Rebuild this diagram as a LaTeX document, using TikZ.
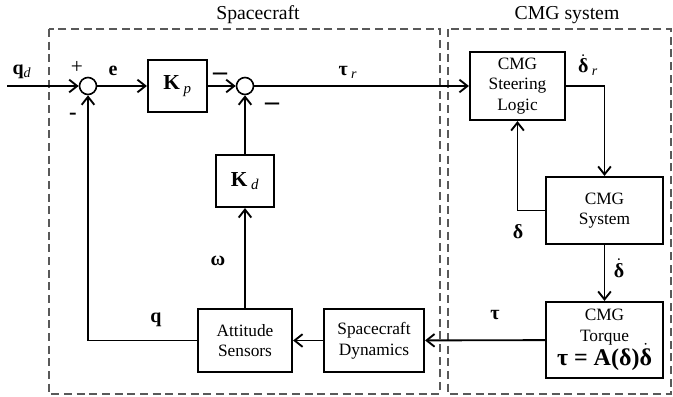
\documentclass[tikz,border=0pt]{standalone}
\usepackage{amsmath}
\usepackage{fontspec}
\setmainfont{Liberation Serif}
\usetikzlibrary{arrows.meta}
\newcommand\bdot[1]{\ensuremath{\dot{\text{\bfseries #1}}}}
\begin{document}
\begin{tikzpicture}[x=0.75pt,y=-0.75pt,
  blk/.style={draw,line width=1.6pt,align=center,inner sep=0pt,font=\fontsize{13}{15.5}\selectfont},
  sumc/.style={draw,circle,line width=1.2pt,minimum size=12.75pt,inner sep=0pt},
  sig/.style={line width=1.4pt,-{Straight Barb[length=6pt,width=9.5pt,line width=1.4pt]}},
  grp/.style={draw=black!65,line width=1.3pt,dash pattern=on 6pt off 3.5pt},
  hdr/.style={font=\fontsize{14.8}{16}\selectfont},
  lab/.style={font=\fontsize{15}{17}\selectfont\bfseries,inner sep=0pt},
  dsh/.style={font=\fontsize{21}{21}\selectfont\bfseries,inner sep=0pt}]
\useasboundingbox (0,0) rectangle (673,396);
% groups
\draw[grp] (49,29) rectangle (440,394);
\draw[grp] (448,29) rectangle (671,394);
\node[hdr] (hsc) at (258,15) {Spacecraft};
\node[hdr] (hcmg) at (567,15) {CMG system};
% nodes
\coordinate (in) at (7,86);
\node[sumc] (s1) at (88,86) {};
\node[blk,minimum width=44.25pt,minimum height=39pt,font=\fontsize{16}{18}\selectfont] (kp) at (177.5,86) {\textbf{K}\,\textsubscript{\itshape p}};
\node[sumc] (s2) at (245,86) {};
\node[blk,minimum width=71.25pt,minimum height=51pt] (steer) at (517.5,86) {CMG\\Steering\\Logic};
\node[blk,minimum width=87.75pt,minimum height=50.25pt] (sys) at (604.5,210.5) {CMG\\System};
\node[blk,minimum width=87.75pt,minimum height=57pt] (torq) at (604.5,340) {CMG\\Torque\\[-2pt]{\fontsize{18}{18}\selectfont\bfseries τ = A(δ)\bdot{δ}}};
\node[blk,minimum width=75pt,minimum height=47.25pt] (scd) at (374,340.5) {Spacecraft\\Dynamics};
\node[blk,minimum width=70.5pt,minimum height=47.25pt] (att) at (245,340.5) {Attitude\\Sensors};
\node[blk,minimum width=43.5pt,minimum height=39pt,font=\fontsize{16}{18}\selectfont] (kd) at (245,181) {\textbf{K}\,\textsubscript{\itshape d}};
% connectors
\draw[sig] (in) -- (s1);
\draw[sig] (s1) -- (kp);
\draw[sig] (kp) -- (s2);
\draw[sig] (s2) -- (steer);
\draw[sig] (steer.east) -| (sys.north);
\draw[sig] (sys.west) -| (steer.south);
\draw[sig] (sys) -- (torq);
\draw[sig] (torq) -- (scd);
\draw[sig] (scd) -- (att);
\draw[sig] (att.west) -| (s1.south);
\draw[sig] (att) -- (kd);
\draw[sig] (kd) -- (s2);
% labels
\node[lab] (lqd) at (22,72) {q\textsubscript{\normalfont\itshape d}};
\node[font=\fontsize{16}{16}\selectfont,inner sep=0pt] (lplus) at (77,67) {+};
\node[font=\fontsize{17}{17}\selectfont\bfseries,inner sep=0pt] (lminus1) at (73,116) {-};
\node[lab] (le) at (113,71) {e};
\node[dsh] (lminus2) at (220,77) {–};
\node[dsh] (lminus3) at (272,107) {–};
\node[lab] (ltr) at (348,72) {τ\,\textsubscript{\normalfont\itshape r}};
\node[lab] (ldr) at (588,65) {\bdot{δ}\,\textsubscript{\normalfont\itshape r}};
\node[lab] (ld) at (518,232) {δ};
\node[lab] (ldd) at (619,268) {\bdot{δ}};
\node[lab] (lt) at (495,315) {τ};
\node[lab] (lq) at (156,320) {q};
\node[lab] (lw) at (218,261) {ω};
\end{tikzpicture}
\end{document}
